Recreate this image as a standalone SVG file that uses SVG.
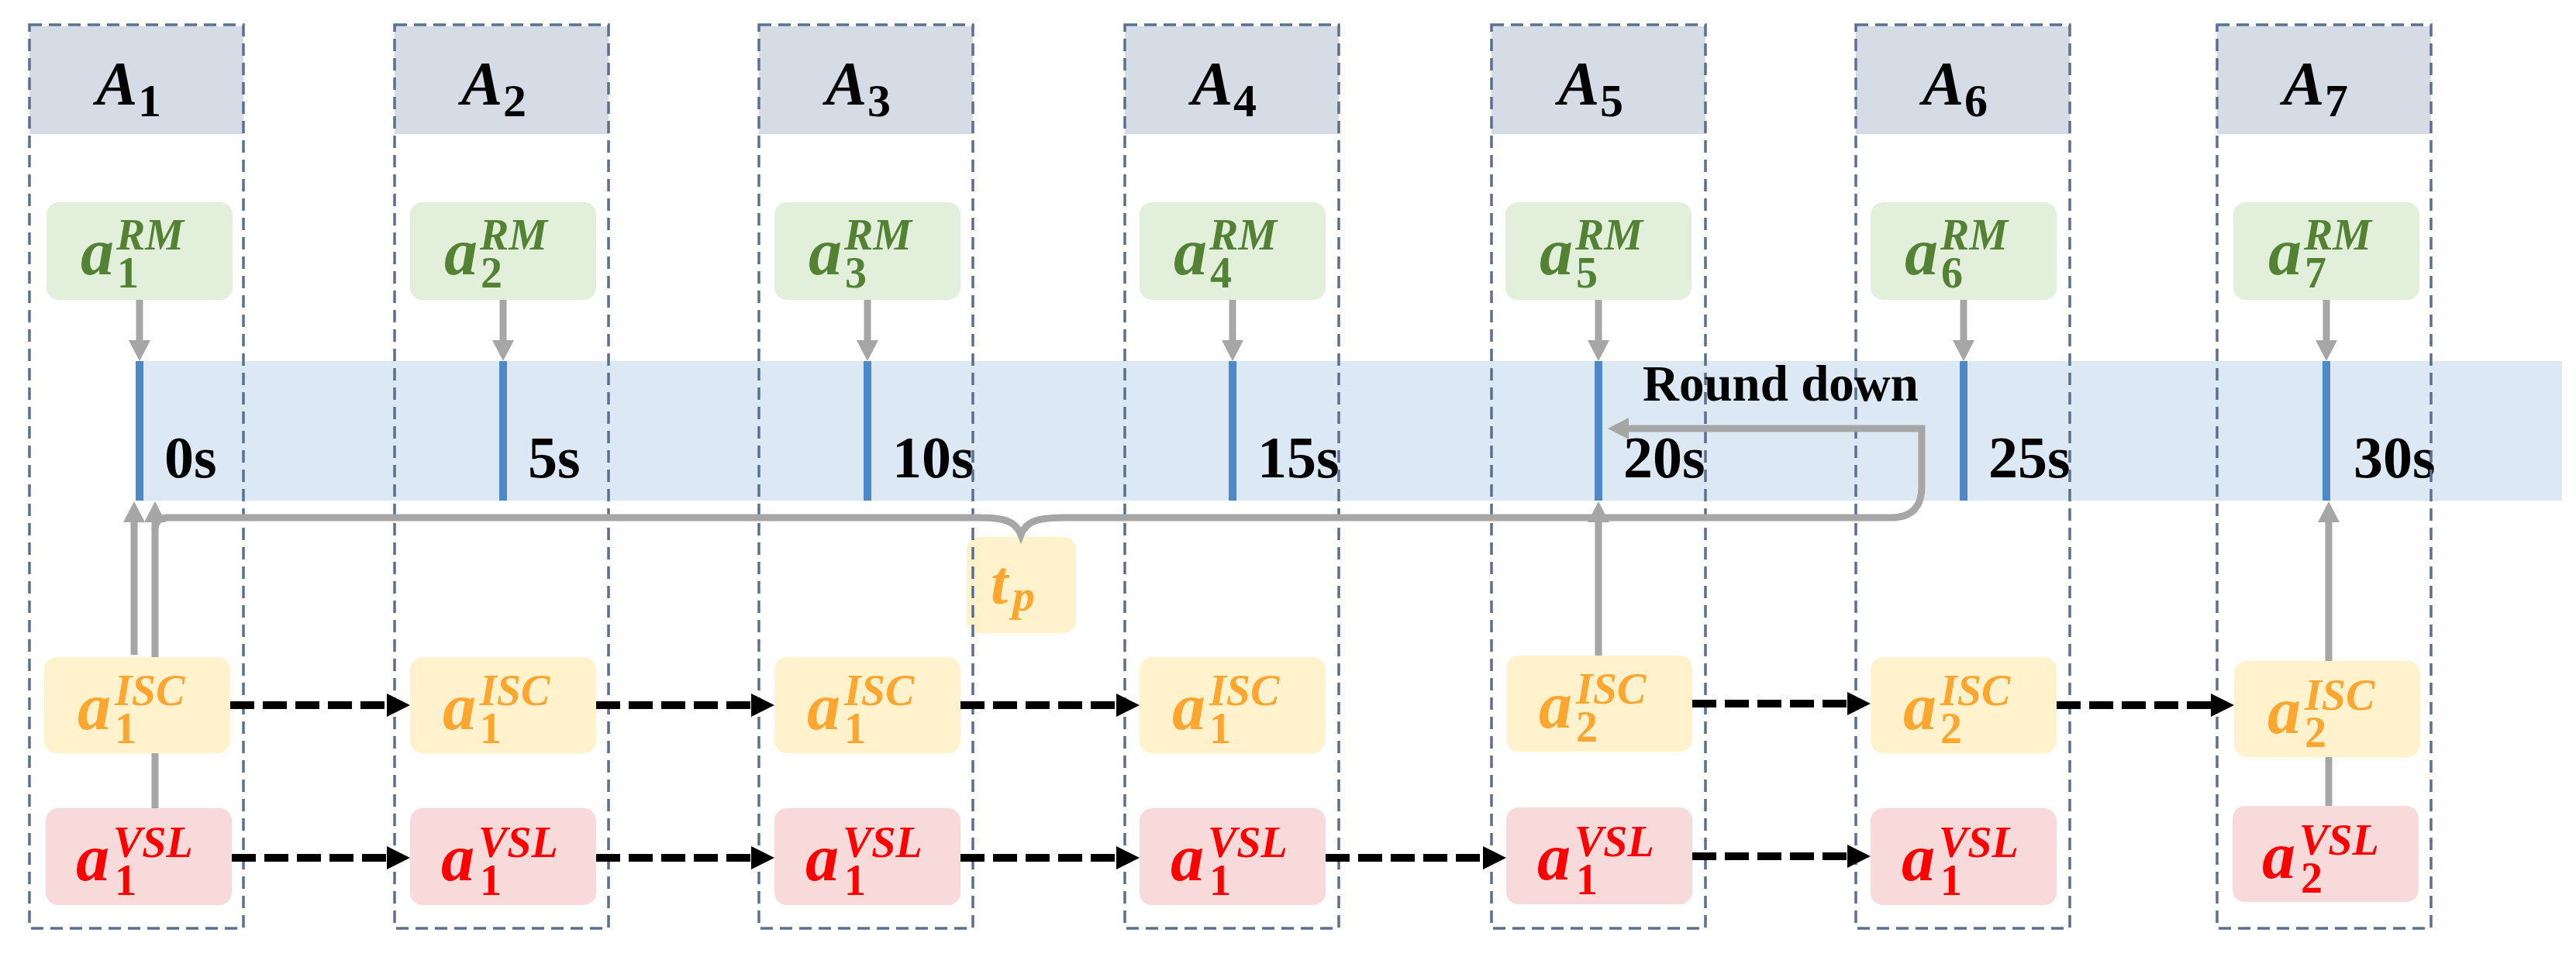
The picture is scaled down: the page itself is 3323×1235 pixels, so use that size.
<svg xmlns="http://www.w3.org/2000/svg" width="3323" height="1235" viewBox="0 0 3323 1235">
<style>
.hdr{fill:#d6dce5}
.frame{fill:none;stroke:#5b6f8f;stroke-width:3.5;stroke-dasharray:16 9}
.rm{fill:#e2efda}
.isc{fill:#fff2cc}
.vsl{fill:#f9dada}
.tick{fill:#4e88c7}
.m{font-family:'Liberation Serif','Times New Roman',serif;font-style:italic;font-weight:bold}
.big{font-size:86px}
.sc{font-size:56px}
.dg{font-style:normal}
.hA{font-size:80px;fill:#000}
.hs{font-size:60px;font-style:normal}
.tRM{fill:#548235}
.tISC{fill:#ffa630}
.tVSL{fill:#ff0000}
.time{font-family:'Liberation Serif','Times New Roman',serif;font-weight:bold;font-size:76px;fill:#000}
.g{stroke:#a6a6a6;stroke-width:9;fill:none}
.k{stroke:#000;stroke-width:10;stroke-dasharray:31 11;fill:none}
</style>
<defs>
<marker id="gh" markerUnits="userSpaceOnUse" markerWidth="28" markerHeight="28" refX="2" refY="14" orient="auto"><path d="M0,0 L27,14 L0,28 z" fill="#a6a6a6"/></marker>
<marker id="kh" markerUnits="userSpaceOnUse" markerWidth="30" markerHeight="30" refX="2" refY="15" orient="auto"><path d="M0,0 L30,15 L0,30 z" fill="#000"/></marker>
</defs>
<rect width="3323" height="1235" fill="#fff"/>

<g id="timeline">
<rect x="175" y="466" width="3130" height="180" fill="#dde8f5"/>
<rect class="tick" x="175" y="466" width="10" height="180"/>
<rect class="tick" x="644" y="466" width="10" height="180"/>
<rect class="tick" x="1114" y="466" width="10" height="180"/>
<rect class="tick" x="1585" y="466" width="10" height="180"/>
<rect class="tick" x="2057" y="466" width="10" height="180"/>
<rect class="tick" x="2528" y="466" width="10" height="180"/>
<rect class="tick" x="2996" y="466" width="10" height="180"/>
<text class="time" x="212" y="616">0s</text>
<text class="time" x="681" y="616">5s</text>
<text class="time" x="1151" y="616">10s</text>
<text class="time" x="1622" y="616">15s</text>
<text class="time" x="2094" y="616">20s</text>
<text class="time" x="2565" y="616">25s</text>
<text class="time" x="3036" y="616">30s</text>
</g>

<g id="tp">
<rect class="isc" x="1247" y="693" width="141" height="124" rx="16"/>
<text class="m tISC"><tspan style="font-size:80px" x="1278" y="779">t</tspan><tspan style="font-size:58px" x="1306" y="788">p</tspan></text>
</g>

<g id="col-A1"><rect class="hdr" x="38" y="34" width="276" height="139"/><rect class="frame" x="38" y="32" width="276" height="1166"/><text class="m hA" x="124" y="135">A<tspan class="hs" x="178" y="150">1</tspan></text></g>
<g id="col-A2"><rect class="hdr" x="509" y="34" width="276" height="139"/><rect class="frame" x="509" y="32" width="276" height="1166"/><text class="m hA" x="595" y="135">A<tspan class="hs" x="649" y="150">2</tspan></text></g>
<g id="col-A3"><rect class="hdr" x="979" y="34" width="276" height="139"/><rect class="frame" x="979" y="32" width="276" height="1166"/><text class="m hA" x="1065" y="135">A<tspan class="hs" x="1119" y="150">3</tspan></text></g>
<g id="col-A4"><rect class="hdr" x="1451" y="34" width="276" height="139"/><rect class="frame" x="1451" y="32" width="276" height="1166"/><text class="m hA" x="1537" y="135">A<tspan class="hs" x="1591" y="150">4</tspan></text></g>
<g id="col-A5"><rect class="hdr" x="1924" y="34" width="276" height="139"/><rect class="frame" x="1924" y="32" width="276" height="1166"/><text class="m hA" x="2010" y="135">A<tspan class="hs" x="2064" y="150">5</tspan></text></g>
<g id="col-A6"><rect class="hdr" x="2394" y="34" width="276" height="139"/><rect class="frame" x="2394" y="32" width="276" height="1166"/><text class="m hA" x="2480" y="135">A<tspan class="hs" x="2534" y="150">6</tspan></text></g>
<g id="col-A7"><rect class="hdr" x="2860" y="34" width="276" height="139"/><rect class="frame" x="2860" y="32" width="276" height="1166"/><text class="m hA" x="2945" y="135">A<tspan class="hs" x="2999" y="150">7</tspan></text></g>

<g id="rm1"><rect class="rm" x="60" y="261" width="240" height="126" rx="16"/><text class="m tRM"><tspan class="big" x="104" y="354">a</tspan><tspan class="sc" x="150" y="322">RM</tspan><tspan class="sc dg" x="151" y="371">1</tspan></text></g>
<g id="rm2"><rect class="rm" x="529" y="261" width="240" height="126" rx="16"/><text class="m tRM"><tspan class="big" x="573" y="354">a</tspan><tspan class="sc" x="619" y="322">RM</tspan><tspan class="sc dg" x="620" y="371">2</tspan></text></g>
<g id="rm3"><rect class="rm" x="999" y="261" width="240" height="126" rx="16"/><text class="m tRM"><tspan class="big" x="1043" y="354">a</tspan><tspan class="sc" x="1089" y="322">RM</tspan><tspan class="sc dg" x="1090" y="371">3</tspan></text></g>
<g id="rm4"><rect class="rm" x="1470" y="261" width="240" height="126" rx="16"/><text class="m tRM"><tspan class="big" x="1514" y="354">a</tspan><tspan class="sc" x="1560" y="322">RM</tspan><tspan class="sc dg" x="1561" y="371">4</tspan></text></g>
<g id="rm5"><rect class="rm" x="1942" y="261" width="240" height="126" rx="16"/><text class="m tRM"><tspan class="big" x="1986" y="354">a</tspan><tspan class="sc" x="2032" y="322">RM</tspan><tspan class="sc dg" x="2033" y="371">5</tspan></text></g>
<g id="rm6"><rect class="rm" x="2413" y="261" width="240" height="126" rx="16"/><text class="m tRM"><tspan class="big" x="2457" y="354">a</tspan><tspan class="sc" x="2503" y="322">RM</tspan><tspan class="sc dg" x="2504" y="371">6</tspan></text></g>
<g id="rm7"><rect class="rm" x="2881" y="261" width="240" height="126" rx="16"/><text class="m tRM"><tspan class="big" x="2926" y="354">a</tspan><tspan class="sc" x="2972" y="322">RM</tspan><tspan class="sc dg" x="2973" y="371">7</tspan></text></g>

<g id="isc1"><rect class="isc" x="57" y="848" width="240" height="124" rx="16"/><text class="m tISC"><tspan class="big" x="100" y="941">a</tspan><tspan class="sc" x="148" y="910">ISC</tspan><tspan class="sc dg" x="148" y="959">1</tspan></text></g>
<g id="isc2"><rect class="isc" x="529" y="848" width="240" height="124" rx="16"/><text class="m tISC"><tspan class="big" x="571" y="941">a</tspan><tspan class="sc" x="619" y="910">ISC</tspan><tspan class="sc dg" x="619" y="959">1</tspan></text></g>
<g id="isc3"><rect class="isc" x="999" y="848" width="240" height="124" rx="16"/><text class="m tISC"><tspan class="big" x="1041" y="941">a</tspan><tspan class="sc" x="1089" y="910">ISC</tspan><tspan class="sc dg" x="1089" y="959">1</tspan></text></g>
<g id="isc4"><rect class="isc" x="1470" y="848" width="240" height="124" rx="16"/><text class="m tISC"><tspan class="big" x="1512" y="941">a</tspan><tspan class="sc" x="1560" y="910">ISC</tspan><tspan class="sc dg" x="1560" y="959">1</tspan></text></g>
<g id="isc5"><rect class="isc" x="1943" y="846" width="240" height="124" rx="16"/><text class="m tISC"><tspan class="big" x="1985" y="939">a</tspan><tspan class="sc" x="2033" y="908">ISC</tspan><tspan class="sc dg" x="2033" y="957">2</tspan></text></g>
<g id="isc6"><rect class="isc" x="2413" y="848" width="240" height="124" rx="16"/><text class="m tISC"><tspan class="big" x="2455" y="941">a</tspan><tspan class="sc" x="2503" y="910">ISC</tspan><tspan class="sc dg" x="2503" y="959">2</tspan></text></g>
<g id="isc7"><rect class="isc" x="2882" y="853" width="240" height="124" rx="16"/><text class="m tISC"><tspan class="big" x="2925" y="946">a</tspan><tspan class="sc" x="2973" y="916">ISC</tspan><tspan class="sc dg" x="2973" y="964">2</tspan></text></g>

<g id="vsl1"><rect class="vsl" x="59" y="1043" width="240" height="125" rx="16"/><text class="m tVSL"><tspan class="big" x="98" y="1136">a</tspan><tspan class="sc" x="146" y="1106">VSL</tspan><tspan class="sc dg" x="148" y="1155">1</tspan></text></g>
<g id="vsl2"><rect class="vsl" x="529" y="1043" width="240" height="125" rx="16"/><text class="m tVSL"><tspan class="big" x="569" y="1136">a</tspan><tspan class="sc" x="617" y="1106">VSL</tspan><tspan class="sc dg" x="619" y="1155">1</tspan></text></g>
<g id="vsl3"><rect class="vsl" x="999" y="1043" width="240" height="125" rx="16"/><text class="m tVSL"><tspan class="big" x="1039" y="1136">a</tspan><tspan class="sc" x="1087" y="1106">VSL</tspan><tspan class="sc dg" x="1089" y="1155">1</tspan></text></g>
<g id="vsl4"><rect class="vsl" x="1470" y="1043" width="240" height="125" rx="16"/><text class="m tVSL"><tspan class="big" x="1510" y="1136">a</tspan><tspan class="sc" x="1558" y="1106">VSL</tspan><tspan class="sc dg" x="1560" y="1155">1</tspan></text></g>
<g id="vsl5"><rect class="vsl" x="1943" y="1042" width="240" height="125" rx="16"/><text class="m tVSL"><tspan class="big" x="1983" y="1135">a</tspan><tspan class="sc" x="2031" y="1105">VSL</tspan><tspan class="sc dg" x="2033" y="1154">1</tspan></text></g>
<g id="vsl6"><rect class="vsl" x="2413" y="1043" width="240" height="125" rx="16"/><text class="m tVSL"><tspan class="big" x="2453" y="1136">a</tspan><tspan class="sc" x="2501" y="1106">VSL</tspan><tspan class="sc dg" x="2503" y="1155">1</tspan></text></g>
<g id="vsl7"><rect class="vsl" x="2880" y="1040" width="240" height="124" rx="16"/><text class="m tVSL"><tspan class="big" x="2918" y="1133">a</tspan><tspan class="sc" x="2966" y="1103">VSL</tspan><tspan class="sc dg" x="2968" y="1152">2</tspan></text></g>

<g id="connectors">
<line class="g" x1="180" y1="387" x2="180" y2="441" marker-end="url(#gh)"/>
<line class="g" x1="649" y1="387" x2="649" y2="441" marker-end="url(#gh)"/>
<line class="g" x1="1119" y1="387" x2="1119" y2="441" marker-end="url(#gh)"/>
<line class="g" x1="1590" y1="387" x2="1590" y2="441" marker-end="url(#gh)"/>
<line class="g" x1="2062" y1="387" x2="2062" y2="441" marker-end="url(#gh)"/>
<line class="g" x1="2533" y1="387" x2="2533" y2="441" marker-end="url(#gh)"/>
<line class="g" x1="3001" y1="387" x2="3001" y2="441" marker-end="url(#gh)"/>

<line class="g" x1="173" y1="845" x2="173" y2="672" marker-end="url(#gh)"/>
<line class="g" x1="200" y1="848" x2="200" y2="672" marker-end="url(#gh)"/>
<line class="g" x1="200" y1="972" x2="200" y2="1043"/>
<line class="g" x1="2062" y1="846" x2="2062" y2="672" marker-end="url(#gh)"/>
<line class="g" x1="3004" y1="853" x2="3004" y2="672" marker-end="url(#gh)"/>
<line class="g" x1="3004" y1="977" x2="3004" y2="1040"/>
<path class="g" d="M200 684 Q200 668 216 668 L1262 668 C1295 668 1310 672 1317 690 C1324 672 1339 668 1373 668 L2439 668 Q2479 668 2479 628 L2479 553 L2099 553" marker-end="url(#gh)"/>

<line class="k" x1="297" y1="910" x2="501" y2="910" marker-end="url(#kh)"/>
<line class="k" x1="769" y1="910" x2="971" y2="910" marker-end="url(#kh)"/>
<line class="k" x1="1239" y1="910" x2="1442" y2="910" marker-end="url(#kh)"/>
<line class="k" x1="2183" y1="908" x2="2385" y2="908" marker-end="url(#kh)"/>
<line class="k" x1="2653" y1="910" x2="2854" y2="910" marker-end="url(#kh)"/>

<line class="k" x1="299" y1="1107" x2="501" y2="1107" marker-end="url(#kh)"/>
<line class="k" x1="769" y1="1107" x2="971" y2="1107" marker-end="url(#kh)"/>
<line class="k" x1="1239" y1="1107" x2="1442" y2="1107" marker-end="url(#kh)"/>
<line class="k" x1="1710" y1="1107" x2="1915" y2="1107" marker-end="url(#kh)"/>
<line class="k" x1="2183" y1="1105" x2="2385" y2="1105" marker-end="url(#kh)"/>
<text class="time" style="font-size:65px" x="2119" y="517">Round down</text>
</g>
</svg>
